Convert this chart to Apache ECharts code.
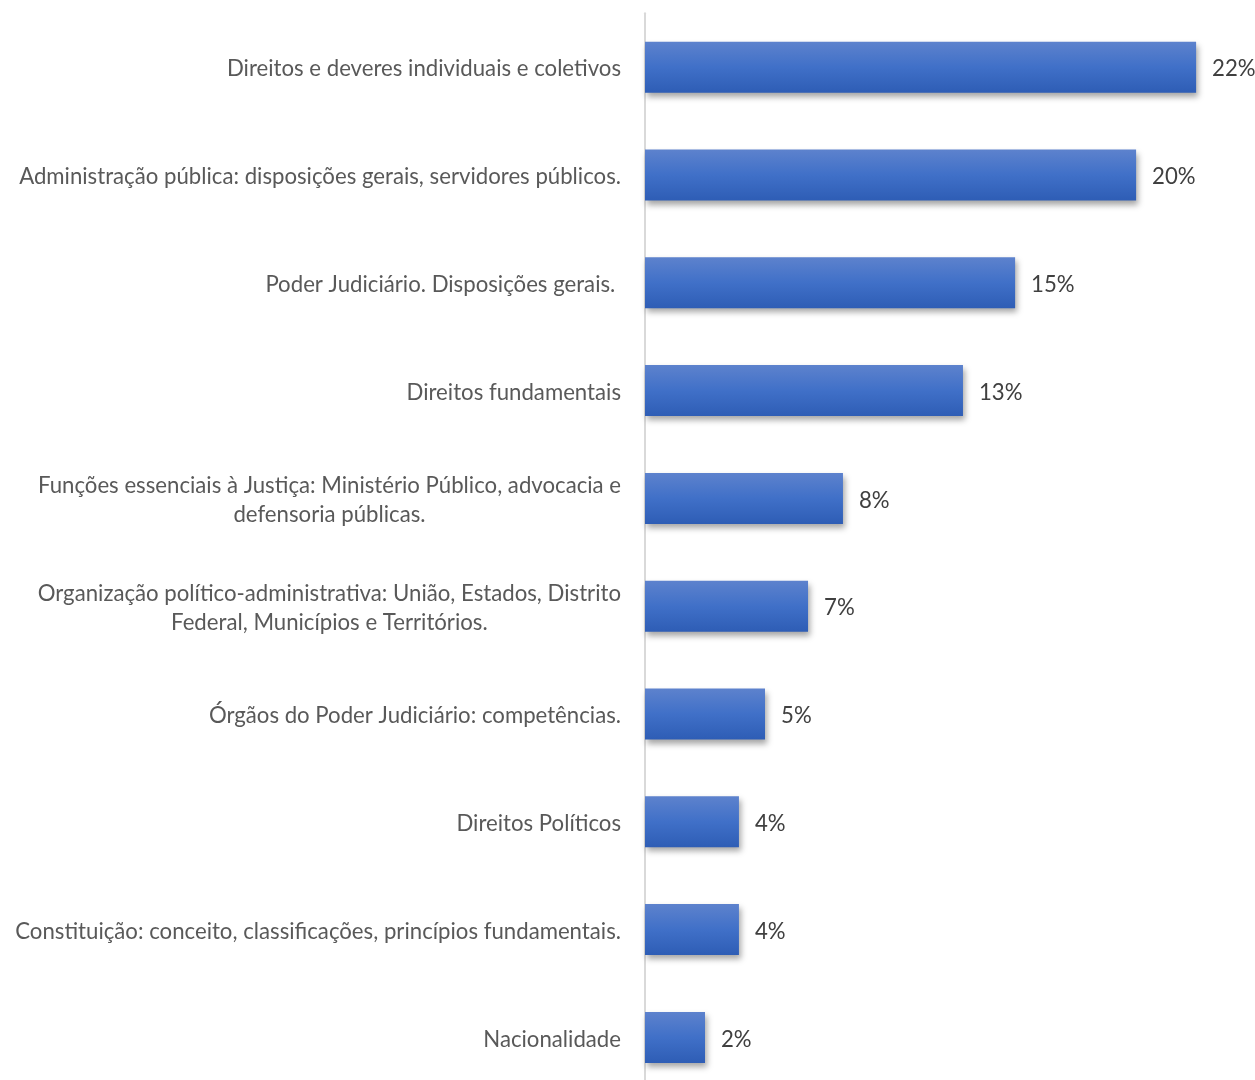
<!DOCTYPE html>
<html>
<head>
<meta charset="utf-8">
<style>
  html, body { margin: 0; padding: 0; background: #ffffff; }
  #chart { width: 1255px; height: 1080px; }
</style>
<script src="https://cdn.jsdelivr.net/npm/echarts@6/dist/echarts.min.js"></script>
</head>
<body>
<div id="chart"></div>
<script>
const categories = [
  "Direitos e deveres individuais e coletivos",
  "Administração pública: disposições gerais, servidores públicos.",
  "Poder Judiciário. Disposições gerais. ",
  "Direitos fundamentais",
  "Funções essenciais à Justiça: Ministério Público, advocacia e\ndefensoria públicas.",
  "Organização político-administrativa: União, Estados, Distrito\nFederal, Municípios e Territórios.",
  "Órgãos do Poder Judiciário: competências.",
  "Direitos Políticos",
  "Constituição: conceito, classificações, princípios fundamentais.",
  "Nacionalidade"
];
const values = [22.41, 19.97, 15.05, 12.93, 8.05, 6.63, 4.88, 3.82, 3.82, 2.44];

const FONT = 'Lato';
const FS = 22.2;
const chart = echarts.init(document.getElementById('chart'), null, { renderer: 'canvas' });
chart.setOption({
  animation: false,
  backgroundColor: '#ffffff',
  grid: { left: 645, right: 19.8, top: 13.3, height: 1078, outerBoundsMode: 'none', containLabel: false },
  xAxis: {
    type: 'value', min: 0, max: 24, show: false
  },
  yAxis: {
    type: 'category',
    data: categories,
    inverse: true,
    axisLine: { show: true, lineStyle: { color: '#d9d9d9', width: 2 } },
    axisTick: { show: false },
    splitLine: { show: false },
    axisLabel: {
      margin: 24,
      fontFamily: FONT,
      fontSize: FS,
      color: '#595959',
      lineHeight: 29,
      formatter: function (v) {
        return v.split('\n').map(function (s) { return '{c|' + s + '}'; }).join('\n');
      },
      rich: {
        c: { align: 'center', fontFamily: FONT, fontSize: FS, color: '#595959', lineHeight: 29, padding: [4, 0, 0, 0] }
      }
    }
  },
  series: [{
    type: 'bar',
    data: values,
    barWidth: 51,
    itemStyle: {
      color: new echarts.graphic.LinearGradient(0, 0, 0, 1, [
        { offset: 0, color: '#5d82cd' },
        { offset: 0.5, color: '#4070c8' },
        { offset: 1, color: '#2e5db5' }
      ]),
      shadowColor: 'rgba(0,0,0,0.35)',
      shadowBlur: 6,
      shadowOffsetX: 2,
      shadowOffsetY: 4
    },
    label: {
      show: true,
      position: 'right',
      distance: 16,
      offset: [0, 2],
      fontFamily: FONT,
      fontSize: FS,
      color: '#404040',
      formatter: function (p) { return Math.round(p.value) + '%'; }
    }
  }]
});
</script>
</body>
</html>
